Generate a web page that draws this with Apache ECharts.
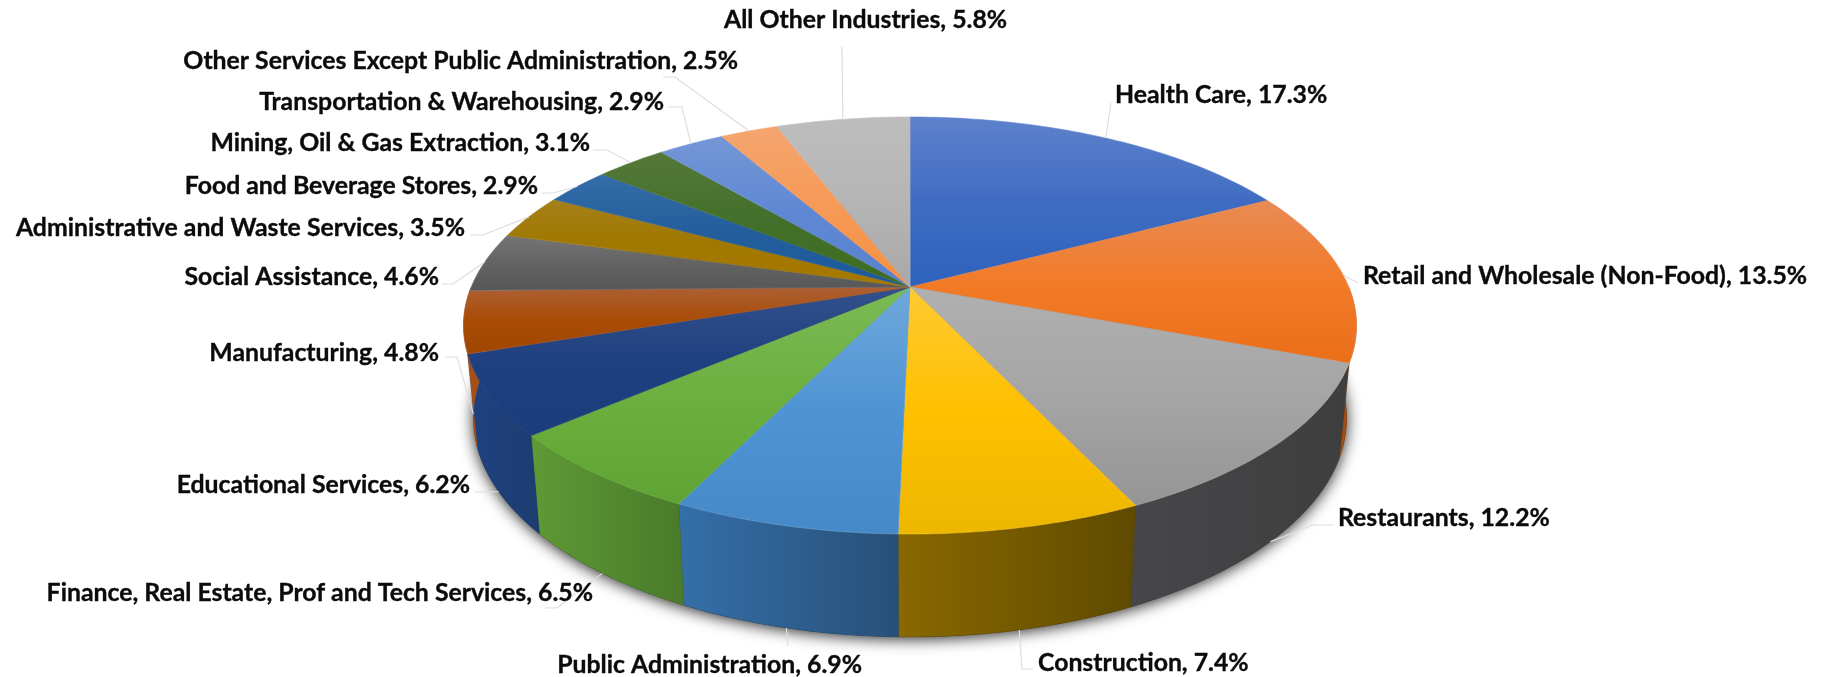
<!DOCTYPE html>
<html>
<head>
<meta charset="utf-8">
<style>html,body{margin:0;padding:0;background:#fff}#c{width:1821px;height:677px}</style>
<script src="https://cdn.jsdelivr.net/npm/echarts@6/dist/echarts.min.js"></script>
</head>
<body>
<div id="c"></div>
<script>
// ---- data ----
const categories = ['Health Care','Retail and Wholesale (Non-Food)','Restaurants','Construction','Public Administration','Finance, Real Estate, Prof and Tech Services','Educational Services','Manufacturing','Social Assistance','Administrative and Waste Services','Food and Beverage Stores','Mining, Oil & Gas Extraction','Transportation & Warehousing','Other Services Except Public Administration','All Other Industries'];
const values = [17.3,13.5,12.2,7.4,6.9,6.5,6.2,4.8,4.6,3.5,2.9,3.1,2.9,2.5,5.8];

// ---- styling ----
const faceTop = ['#5E82CC','#E88B55','#B0B0B0','#FFCA33','#6FA8DC','#7ABA55','#33508A','#AD6035','#757575','#A5801A','#346DA8','#55783A','#7497D6','#F4A56E','#BDBDBD'];
const faceMid = ['#3F6CC2','#F27B28','#A5A5A5','#FFC000','#4E94D4','#6CB03F','#1F4080','#A84C06','#636363','#A07800','#245E9C','#43702A','#5F88D4','#F69A58','#B5B5B5'];
const faceBot = ['#2E62BC','#EB6E18','#959595','#EDB700','#4689C8','#5FA334','#1C3D7C','#A04600','#575757','#A87800','#1C5A9C','#3D6C20','#5880D0','#F59040','#A8A8A8'];
const wallLeft  = ['#2A4A80','#A44E10','#47474B','#8A6800','#356FA8','#5E9A35','#1E4180','#A5501A','#444444','#666666','#223344','#223344','#334455','#996644','#777777'];
const wallRight = ['#2A4A80','#A04A0E','#3E3E3E','#5E4A00','#275078','#4A7A2A','#1D3D70','#A5501A','#444444','#666666','#223344','#223344','#334455','#996644','#777777'];
const FONT = 'Lato';
const FONT_SIZE = 24.8;

// ---- layout of the pie and its labels ----
const CX = 910, CY = 287, PERSP = 0.1847, SCALE_Y = 201.4, SCALE_X = 438.8;
const RING_S = 0.978, RING_Y_K = 1.05, RING_Y_B = 90.6;
const labelLayout = [
  {x:1115,y:95, align:'left', elbow:[1111,103]},
  {x:1363,y:276,align:'left', elbow:[1358,283]},
  {x:1338,y:518,align:'left', elbow:[1313,525], start:[1333,525]},
  {x:1038,y:663,align:'left', elbow:[1022,669], start:[1033,669]},
  {x:862, y:665,align:'right',elbow:[788,646]},
  {x:593, y:593,align:'right',elbow:[557,608], start:[545,608]},
  {x:470, y:485,align:'right',elbow:[475,492]},
  {x:439, y:353,align:'right',elbow:[457,357], start:[445,357]},
  {x:439, y:277,align:'right',elbow:[453,284], start:[442,284]},
  {x:465, y:228,align:'right',elbow:[483,235], start:[470,235]},
  {x:538, y:186,align:'right',elbow:[553,193], start:[542,193]},
  {x:590, y:143,align:'right',elbow:[607,150], start:[593,150]},
  {x:664, y:102,align:'right',elbow:[682,107], start:[668,107]},
  {x:738, y:61, align:'right',elbow:[675,77], start:[663,77]},
  {x:724, y:20, align:'left', elbow:[842,47]}
];

const total = values.reduce((a,b)=>a+b,0);
const startFrac = []; let acc = 0;
values.forEach(v=>{startFrac.push(acc/total); acc+=v;});

function topPt(t){ // t = clockwise angle from 12 o'clock, radians
  const u=Math.sin(t), v=-Math.cos(t), d=1-PERSP*v;
  return [SCALE_X*u/d, SCALE_Y*v/d];
}
function ringTop(t){const p=topPt(t);return [CX+p[0],CY+p[1]];}
function ringBottom(t){const p=topPt(t);return [CX+RING_S*p[0],CY+RING_Y_K*p[1]+RING_Y_B];}
function arc(fn,a,b){const n=Math.max(2,Math.ceil(Math.abs(b-a)/(Math.PI/180)));const o=[];for(let i=0;i<=n;i++)o.push(fn(a+(b-a)*i/n));return o;}
const range=i=>[startFrac[i]*2*Math.PI,(startFrac[i]+values[i]/total)*2*Math.PI];
const FRONT_A=Math.PI/2, FRONT_B=Math.PI*1.5;

function renderWall(params,api){
  const i=params.dataIndex, ch=[];
  if(i===0){
    ch.push({type:'polygon',shape:{points:arc(ringBottom,0,Math.PI*2)},style:{fill:'#333',shadowBlur:15,shadowColor:'rgba(0,0,0,0.85)',shadowOffsetY:2}});
  }
  const [a0,b0]=range(i), a=Math.max(a0,FRONT_A), b=Math.min(b0,FRONT_B);
  if(b>a){
    const pts=arc(ringTop,a,b).concat(arc(ringBottom,b,a));
    ch.push({type:'polygon',shape:{points:pts},style:{
      fill:{type:'linear',x:0,y:0,x2:1,y2:0,colorStops:[{offset:0,color:wallLeft[i]},{offset:1,color:wallRight[i]}]},
      stroke:wallRight[i],lineWidth:0.4}});
  }
  return {type:'group',children:ch};
}
function renderTop(params,api){
  const i=params.dataIndex,[a,b]=range(i);
  const pts=[[CX,CY]].concat(arc(ringTop,a,b));
  const fill={type:'linear',x:0,y:0,x2:0,y2:1,colorStops:[
    {offset:0,color:faceTop[i]},{offset:0.5,color:faceMid[i]},{offset:1,color:faceBot[i]}]};
  return {type:'polygon',shape:{points:pts},style:{fill:fill,stroke:faceTop[i],lineWidth:0.6}};
}
function renderLabel(params,api){
  const i=params.dataIndex,L=labelLayout[i],[a,b]=range(i),m=(a+b)/2;
  const front=m>FRONT_A&&m<FRONT_B;
  const rim=front?ringBottom(m):ringTop(m);
  const pts=[];
  if(L.start)pts.push(L.start);
  pts.push(L.elbow);pts.push(rim);
  return {type:'group',children:[
    {type:'polyline',shape:{points:pts},style:{fill:null,stroke:'#DEDEDE',lineWidth:1.2}},
    {type:'text',style:{x:L.x,y:L.y,text:categories[i]+', '+values[i].toFixed(1)+'%',align:L.align,verticalAlign:'middle',
      font:'bold '+FONT_SIZE+'px '+FONT,fill:'#0B0B0B',stroke:'#0B0B0B',lineWidth:0.35}}
  ]};
}
const chart=echarts.init(document.getElementById('c'),null,{renderer:'canvas'});
const data=values.map((v,i)=>({name:categories[i],value:v}));
chart.setOption({
  animation:false,
  backgroundColor:'#fff',
  series:[
    {type:'custom',name:'walls',coordinateSystem:'none',renderItem:renderWall,data:data,silent:true,z:1},
    {type:'custom',name:'tops',coordinateSystem:'none',renderItem:renderTop,data:data,silent:true,z:2},
    {type:'custom',name:'labels',coordinateSystem:'none',renderItem:renderLabel,data:data,silent:true,z:3}
  ]
});
</script>
</body>
</html>
